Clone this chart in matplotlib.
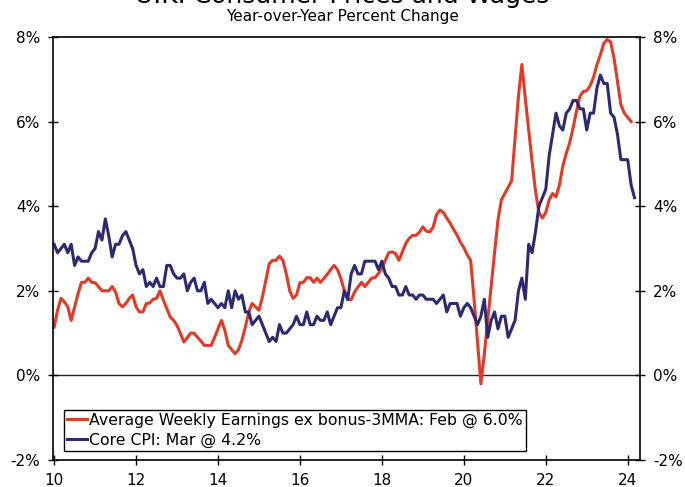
import matplotlib.pyplot as plt
import matplotlib.ticker as mticker
import numpy as np

# monthly data, Jan 2010 onward
# Average Weekly Earnings ex bonus, 3MMA, yoy %  (Jan 2010 - Feb 2024)
earnings = [
    1.14, 1.54, 1.82, 1.74, 1.62, 1.30, 1.62, 1.93, 2.20, 2.20, 2.30, 2.20,  # 2010
    2.19, 2.10, 2.00, 2.00, 2.00, 2.10, 1.97, 1.70, 1.62, 1.70, 1.82, 1.90,  # 2011
    1.62, 1.50, 1.50, 1.70, 1.71, 1.80, 1.82, 2.00, 1.78, 1.58, 1.38, 1.30,  # 2012
    1.18, 0.99, 0.79, 0.89, 1.00, 1.00, 0.90, 0.81, 0.71, 0.71, 0.71, 0.90,  # 2013
    1.10, 1.30, 1.07, 0.71, 0.61, 0.51, 0.61, 0.83, 1.14, 1.50, 1.70, 1.62,  # 2014
    1.54, 1.85, 2.25, 2.64, 2.72, 2.72, 2.82, 2.72, 2.40, 2.00, 1.82, 1.90,  # 2015
    2.19, 2.20, 2.31, 2.31, 2.20, 2.30, 2.20, 2.29, 2.39, 2.50, 2.60, 2.50,  # 2016
    2.29, 2.00, 1.79, 1.79, 1.97, 2.09, 2.20, 2.10, 2.20, 2.30, 2.31, 2.41,  # 2017
    2.53, 2.72, 2.90, 2.92, 2.88, 2.72, 2.92, 3.12, 3.24, 3.31, 3.31, 3.39,  # 2018
    3.51, 3.41, 3.39, 3.50, 3.80, 3.91, 3.85, 3.72, 3.60, 3.45, 3.32, 3.15,  # 2019
    3.02, 2.85, 2.72, 1.80, 0.80, -0.20, 0.50, 1.30, 2.10, 2.90, 3.67, 4.15,  # 2020
    4.30, 4.45, 4.60, 5.60, 6.60, 7.35, 6.55, 5.80, 5.05, 4.35, 3.85, 3.72,  # 2021
    3.85, 4.15, 4.30, 4.22, 4.50, 4.95, 5.25, 5.50, 5.85, 6.25, 6.60, 6.71,  # 2022
    6.73, 6.85, 7.05, 7.35, 7.58, 7.85, 7.94, 7.88, 7.50, 6.95, 6.40, 6.20,  # 2023
    6.10, 6.00,                                                              # 2024
]

# Core CPI, yoy %  (Jan 2010 - Mar 2024)
core_cpi = [
    3.1, 2.9, 3.0, 3.1, 2.9, 3.1, 2.6, 2.8, 2.7, 2.7, 2.7, 2.9,  # 2010
    3.0, 3.4, 3.2, 3.7, 3.3, 2.8, 3.1, 3.1, 3.3, 3.4, 3.2, 3.0,  # 2011
    2.6, 2.4, 2.5, 2.1, 2.2, 2.1, 2.3, 2.1, 2.1, 2.6, 2.6, 2.4,  # 2012
    2.3, 2.3, 2.4, 2.0, 2.2, 2.3, 2.0, 2.0, 2.2, 1.7, 1.8, 1.7,  # 2013
    1.6, 1.7, 1.6, 2.0, 1.6, 2.0, 1.8, 1.9, 1.5, 1.5, 1.2, 1.3,  # 2014
    1.4, 1.2, 1.0, 0.8, 0.9, 0.8, 1.2, 1.0, 1.0, 1.1, 1.2, 1.4,  # 2015
    1.2, 1.2, 1.5, 1.2, 1.2, 1.4, 1.3, 1.3, 1.5, 1.2, 1.4, 1.6,  # 2016
    1.6, 2.0, 1.8, 2.4, 2.6, 2.4, 2.4, 2.7, 2.7, 2.7, 2.7, 2.5,  # 2017
    2.7, 2.4, 2.3, 2.1, 2.1, 1.9, 1.9, 2.1, 1.9, 1.9, 1.8, 1.9,  # 2018
    1.9, 1.8, 1.8, 1.8, 1.7, 1.8, 1.9, 1.5, 1.7, 1.7, 1.7, 1.4,  # 2019
    1.6, 1.7, 1.6, 1.4, 1.2, 1.4, 1.8, 0.9, 1.3, 1.5, 1.1, 1.4,  # 2020
    1.4, 0.9, 1.1, 1.3, 2.0, 2.3, 1.8, 3.1, 2.9, 3.4, 4.0, 4.2,  # 2021
    4.4, 5.2, 5.7, 6.2, 5.9, 5.8, 6.2, 6.3, 6.5, 6.5, 6.3, 6.3,  # 2022
    5.8, 6.2, 6.2, 6.8, 7.1, 6.9, 6.9, 6.2, 6.1, 5.7, 5.1, 5.1,  # 2023
    5.1, 4.5, 4.2,                                                # 2024
]

earnings_label = "Average Weekly Earnings ex bonus-3MMA: Feb @ 6.0%"
cpi_label = "Core CPI: Mar @ 4.2%"
year_ticks = [10, 12, 14, 16, 18, 20, 22, 24]
pct_ticks = [-2, 0, 2, 4, 6, 8]

# x in two-digit years (10 = 2010)
x_earn = 10 + np.arange(len(earnings)) / 12
x_cpi = 10 + np.arange(len(core_cpi)) / 12

red = "#DF3B27"
navy = "#2E2A70"

plt.rcParams['font.family'] = 'DejaVu Sans'

fig = plt.figure(figsize=(6.85, 4.87), dpi=100)
ax = fig.add_axes([53.3 / 685, 1 - 460 / 487, (640 - 53.3) / 685, (460 - 37) / 487])

ax.plot(x_earn, earnings, color=red, lw=2.2, label=earnings_label)
ax.plot(x_cpi, core_cpi, color=navy, lw=2.2, label=cpi_label)
ax.axhline(0, color="#222222", lw=1.0, zorder=1)

ax.set_xlim(9.98, 24.3)
ax.set_ylim(-2, 8)
ax.set_xticks(year_ticks)
ax.set_yticks(pct_ticks)
ax.yaxis.set_major_formatter(mticker.FuncFormatter(lambda v, p: f"{v:.0f}%"))

ax.tick_params(axis='both', direction='inout', length=7, width=1, labelsize=11, colors='black')
ax.tick_params(axis='y', right=True, labelright=True, pad=6)
ax.tick_params(axis='x', pad=6)
for s in ax.spines.values():
    s.set_color('black')
    s.set_linewidth(1.2)

leg = ax.legend(loc='lower left', bbox_to_anchor=(0.018, 0.021), borderaxespad=0,
                fontsize=11.3, frameon=True, fancybox=False, framealpha=1,
                handlelength=1.3, handletextpad=0.1, borderpad=0.2, labelspacing=0.3)
leg.get_frame().set_edgecolor('black')
leg.get_frame().set_linewidth(1.0)

# title sits partly above the canvas, as in the original
fig.text(0.5, 1 - 3.5 / 487, "U.K. Consumer Prices and Wages", ha='center', va='baseline', fontsize=18)
fig.text(0.5, 1 - 21 / 487, "Year-over-Year Percent Change", ha='center', va='baseline', fontsize=11)

fig.savefig("out.png", dpi=100)
